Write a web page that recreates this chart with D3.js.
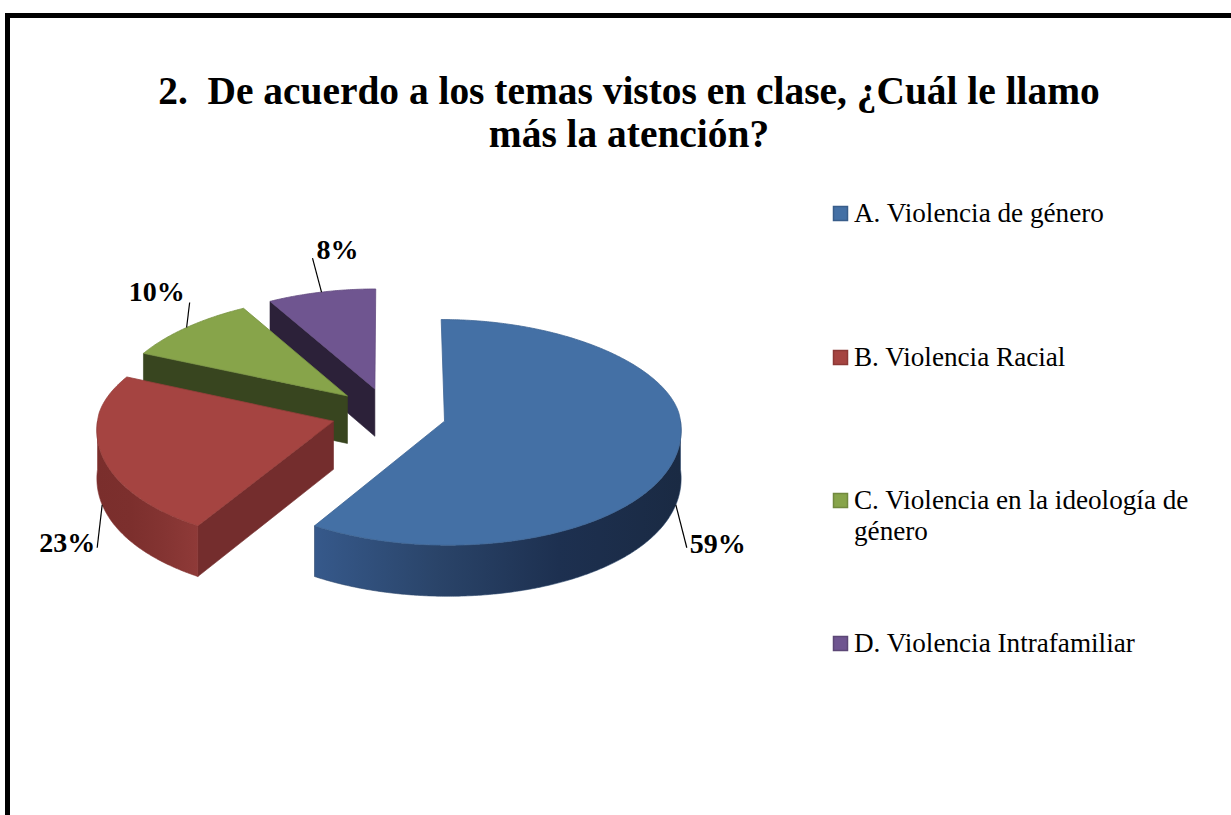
<!DOCTYPE html>
<html>
<head>
<meta charset="utf-8">
<script src="https://cdn.jsdelivr.net/npm/d3@7"></script>
<style>
  body { margin: 0; background: #fff; }
</style>
</head>
<body>
<div id="chart"></div>
<script>
// data
const categories = ["A. Violencia de género", "B. Violencia Racial", "C. Violencia en la ideología de género", "D. Violencia Intrafamiliar"];
const values = [59, 23, 10, 8];
const labels = ["59%", "23%", "10%", "8%"];
const titleLines = ["2.  De acuerdo a los temas vistos en clase, ¿Cuál le llamo", "más la atención?"];

// colours
const topColors = ["#4470a5", "#a54441", "#87a44a", "#6f5590"];
const faceColors = ["#243b5c", "#742d2d", "#38451f", "#2c2139"];
const wallColors = [["#36598b", "#2a4469", "#1d3050", "#1a2a43"], ["#8f3a38", "#843432", "#7c2f2d", "#7a2e2c"],
                    ["#6e8a3a", "#5e7632", "#4f642a", "#445724"], ["#5c4778", "#4e3d66", "#433456", "#3a2d4b"]];
const legendStroke = ["#385d8a", "#8c3836", "#71893f", "#5c4776"];

// label leader layout (offset of leader end from rim anchor, text offset from leader end)
const leaderEnd = [[11, 43], [-5, 43], [3, -25], [-9, -34]];
const textAnchor = ["start", "end", "end", "start"];
const textShift = [[3, 5], [-2, 4], [-5, -1], [4, 1]];

const width = 1231, height = 815;
const cx = 389, cy = 412.7, rx = 235, ryBack = 100, ryFront = 124, depth = 48, persp = 0.06, explode = 0.245;

const svg = d3.select("#chart").append("svg")
  .attr("width", width)
  .attr("height", height)
  .style("display", "block");

svg.append("rect").attr("width", width).attr("height", height).attr("fill", "#fff");

// frame
svg.append("rect")
  .attr("x", 7.5).attr("y", 15.5)
  .attr("width", 1400).attr("height", 1000)
  .attr("fill", "none").attr("stroke", "#000").attr("stroke-width", 5);

// title, fitted to the width of the first line
const title = svg.append("text")
  .attr("text-anchor", "middle")
  .attr("font-family", "'Liberation Serif', serif")
  .attr("font-weight", "bold")
  .attr("font-size", 36)
  .style("white-space", "pre");
titleLines.forEach((t, i) => {
  title.append("tspan").attr("x", 629).attr("y", 104 + i * 43).text(t);
});
const w0 = title.select("tspan").node().getComputedTextLength();
title.attr("font-size", 36 * 942 / w0);

// 3d projection
function project(u, v, z) {
  const s = 1 - persp * v;
  return [cx + rx * u * s, cy - (v > 0 ? ryBack : ryFront) * v + z * depth * s];
}
function rim(d, a, z) {
  const mid = (d.startAngle + d.endAngle) / 2;
  return project(explode * Math.sin(mid) + Math.sin(a), explode * Math.cos(mid) + Math.cos(a), z);
}
function vertex(d, z) {
  const mid = (d.startAngle + d.endAngle) / 2;
  return project(explode * Math.sin(mid), explode * Math.cos(mid), z);
}
function arcPoints(d, a0, a1, z) {
  const n = Math.max(2, Math.ceil((a1 - a0) / (Math.PI / 360)));
  return d3.range(n + 1).map(i => rim(d, a0 + (a1 - a0) * i / n, z));
}

const pie = d3.pie().sort(null).value(d => d);
const arcs = pie(values).map((d, i) => Object.assign(d, { i }));
const line = d3.line();

const defs = svg.append("defs");
arcs.forEach(d => {
  const g = defs.append("linearGradient")
    .attr("id", "wall" + d.i)
    .attr("gradientUnits", "userSpaceOnUse")
    .attr("x1", cx - rx * 1.3).attr("x2", cx + rx * 1.3)
    .attr("y1", 0).attr("y2", 0);
  const a0 = Math.max(d.startAngle, Math.PI / 2), a1 = Math.min(d.endAngle, Math.PI * 1.5);
  if (a1 > a0) {
    const xs = arcPoints(d, a0, a1, 0).map(p => p[0]);
    g.attr("x1", d.i === 0 ? d3.min(xs) : d3.max(xs)).attr("x2", d.i === 0 ? d3.max(xs) : d3.min(xs));
  }
  wallColors[d.i].forEach((c, k, arr) => {
    g.append("stop").attr("offset", k / (arr.length - 1)).attr("stop-color", c);
  });
});

// back slices first
const order = arcs.slice().sort((a, b) => {
  const ma = (a.startAngle + a.endAngle) / 2, mb = (b.startAngle + b.endAngle) / 2;
  return Math.cos(mb) - Math.cos(ma);
});

const pieG = svg.append("g");
order.forEach(d => {
  const g = pieG.append("g");
  // radial cut faces facing the viewer
  [[d.startAngle, d.startAngle - Math.PI / 2], [d.endAngle, d.endAngle + Math.PI / 2]].forEach(([a, n]) => {
    if (Math.cos(n) < -1e-6) {
      const pts = [vertex(d, 0), rim(d, a, 0), rim(d, a, 1), vertex(d, 1)];
      g.append("path").attr("d", line(pts) + "Z")
        .attr("fill", faceColors[d.i]).attr("stroke", faceColors[d.i]).attr("stroke-width", 0.6);
    }
  });
  // outer wall on the front half
  const a0 = Math.max(d.startAngle, Math.PI / 2), a1 = Math.min(d.endAngle, Math.PI * 1.5);
  if (a1 > a0) {
    const pts = arcPoints(d, a0, a1, 0).concat(arcPoints(d, a0, a1, 1).reverse());
    g.append("path").attr("d", line(pts) + "Z")
      .attr("fill", `url(#wall${d.i})`).attr("stroke", wallColors[d.i][1]).attr("stroke-width", 0.6);
  }
  // top face
  const top = [vertex(d, 0)].concat(arcPoints(d, d.startAngle, d.endAngle, 0));
  g.append("path").attr("d", line(top) + "Z")
    .attr("fill", topColors[d.i]).attr("stroke", d3.color(topColors[d.i]).darker(0.3)).attr("stroke-width", 0.8);
});

// data labels with leader lines
const labelG = svg.append("g")
  .attr("font-family", "'Liberation Serif', serif")
  .attr("font-weight", "bold")
  .attr("font-size", 28);
arcs.forEach(d => {
  const mid = (d.startAngle + d.endAngle) / 2;
  const p = rim(d, mid, Math.cos(mid) < 0 ? 1 : 0);
  const q = [p[0] + leaderEnd[d.i][0], p[1] + leaderEnd[d.i][1]];
  labelG.append("line")
    .attr("x1", p[0]).attr("y1", p[1]).attr("x2", q[0]).attr("y2", q[1])
    .attr("stroke", "#000").attr("stroke-width", 1.2);
  labelG.append("text")
    .attr("x", q[0] + textShift[d.i][0]).attr("y", q[1] + textShift[d.i][1])
    .attr("text-anchor", textAnchor[d.i])
    .text(labels[d.i]);
});

// legend, font fitted to the first entry's width
const legend = svg.append("g")
  .attr("font-family", "'Liberation Serif', serif")
  .attr("font-size", 25);
const probe = legend.append("text").text(categories[0]);
const legendSize = 25 * 250 / probe.node().getComputedTextLength();
probe.remove();
legend.attr("font-size", legendSize);

const legendRowY = [222, 366, 509, 652];
const legendX = 854, legendMaxW = 350;
categories.forEach((c, i) => {
  legend.append("rect")
    .attr("x", 833.5).attr("y", legendRowY[i] - 15.5)
    .attr("width", 14).attr("height", 14)
    .attr("fill", topColors[i]).attr("stroke", legendStroke[i]).attr("stroke-width", 1.5);
  const t = legend.append("text").attr("x", legendX).attr("y", legendRowY[i]);
  let cur = [];
  let tspan = t.append("tspan").attr("x", legendX).attr("dy", 0);
  c.split(" ").forEach(w => {
    cur.push(w);
    tspan.text(cur.join(" "));
    if (tspan.node().getComputedTextLength() > legendMaxW && cur.length > 1) {
      cur.pop();
      tspan.text(cur.join(" "));
      cur = [w];
      tspan = t.append("tspan").attr("x", legendX).attr("dy", 31).text(w);
    }
  });
});
</script>
</body>
</html>
